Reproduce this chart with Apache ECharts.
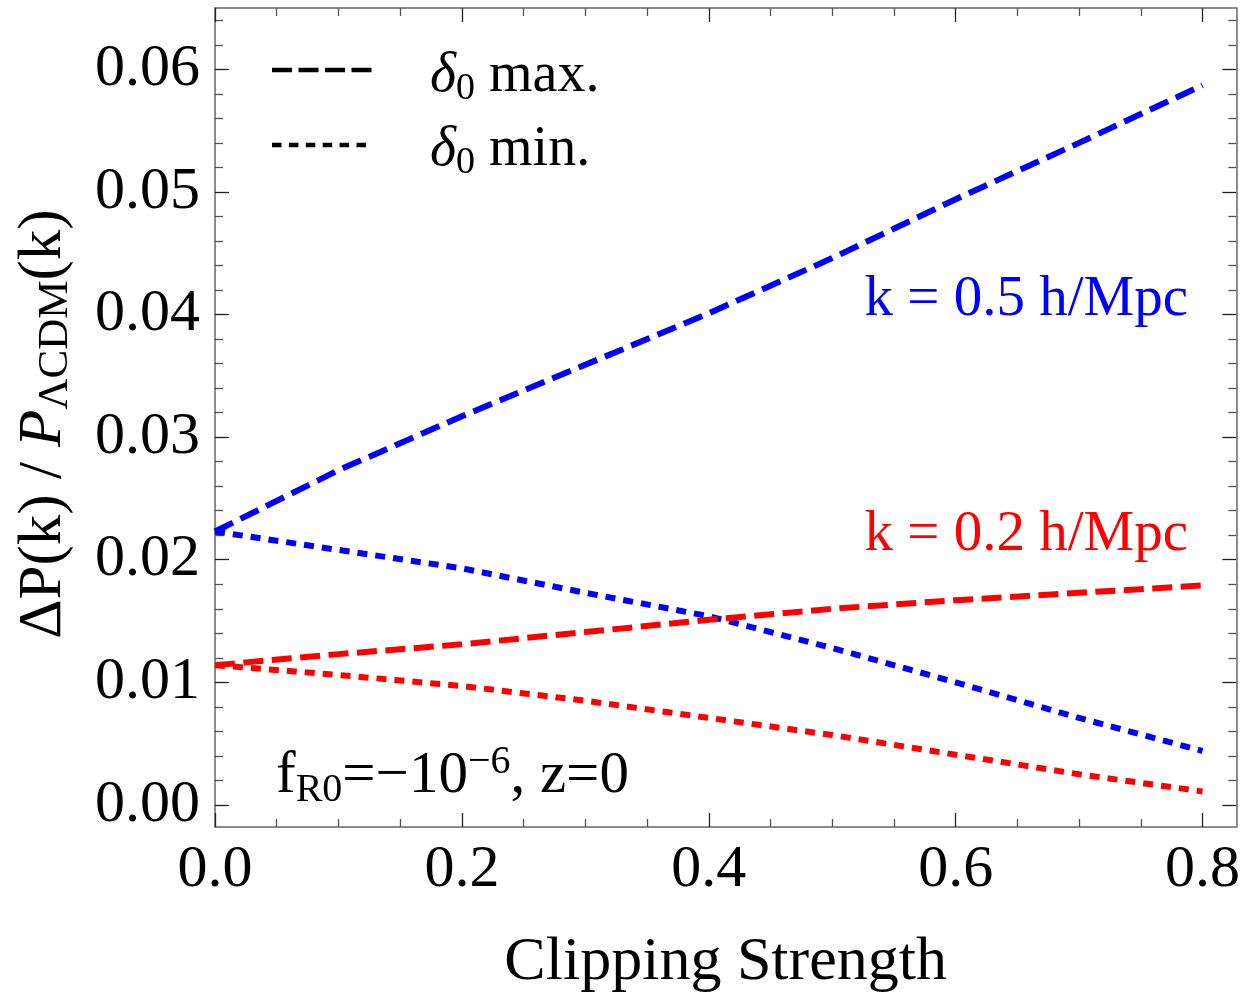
<!DOCTYPE html>
<html>
<head>
<meta charset="utf-8">
<script src="https://cdn.jsdelivr.net/npm/echarts@6/dist/echarts.min.js"></script>
<style>
  html, body { margin: 0; padding: 0; background: #fff; }
  #chart { width: 1243px; height: 999px; }
</style>
</head>
<body>
<div id="chart"></div>
<script>
// Clipping strength samples
const clipping = [0, 0.1, 0.2, 0.3, 0.4, 0.5, 0.6, 0.7, 0.8];
// Fractional power-spectrum change, k = 0.5 h/Mpc
const k05Max = [0.0223, 0.0273, 0.0317, 0.0359, 0.0401, 0.0446, 0.0494, 0.0540, 0.0587];
const k05Min = [0.0223, 0.0208, 0.0193, 0.0173, 0.0154, 0.0128, 0.0100, 0.0071, 0.0044];
// Fractional power-spectrum change, k = 0.2 h/Mpc
const k02Max = [0.0114, 0.0123, 0.0131, 0.0141, 0.0151, 0.0160, 0.0167, 0.0173, 0.0179];
const k02Min = [0.0114, 0.0106, 0.0097, 0.0085, 0.0071, 0.0057, 0.0041, 0.0025, 0.0011];

// Tick positions
const xMajorTicks = [0, 0.2, 0.4, 0.6, 0.8];
const xMinorTicks = [0.05, 0.1, 0.15, 0.25, 0.3, 0.35, 0.45, 0.5, 0.55, 0.65, 0.7, 0.75];
const yMajorTicks = [0, 0.01, 0.02, 0.03, 0.04, 0.05, 0.06];
const yMinorTicks = [0.002, 0.004, 0.006, 0.008, 0.012, 0.014, 0.016, 0.018,
  0.022, 0.024, 0.026, 0.028, 0.032, 0.034, 0.036, 0.038, 0.042, 0.044, 0.046, 0.048,
  0.052, 0.054, 0.056, 0.058, 0.062, 0.064];

const X_MIN = 0, X_MAX = 0.8274;
const Y_MIN = -0.0018, Y_MAX = 0.065;

const SERIF = '"Liberation Serif", "DejaVu Serif", serif';
const FRAME = '#666';

function pair(zipX, ys) { return zipX.map((x, i) => [x, ys[i]]); }

function xAxisDef(position, ticks, len, withLabels, showLine) {
  return {
    type: 'value', position, min: X_MIN, max: X_MAX,
    axisLine: { show: showLine, onZero: false, lineStyle: { color: FRAME, width: 1.5 } },
    axisTick: { show: true, inside: true, length: len, customValues: ticks,
      lineStyle: { color: len > 10 ? '#222' : '#555', width: 1.3 } },
    axisLabel: withLabels ? {
      show: true, customValues: ticks, margin: 13,
      formatter: v => v.toFixed(1),
      fontFamily: SERIF, fontSize: 60, color: '#000'
    } : { show: false },
    splitLine: { show: false }
  };
}

function yAxisDef(position, ticks, len, withLabels, showLine) {
  return {
    type: 'value', position, min: Y_MIN, max: Y_MAX,
    axisLine: { show: showLine, onZero: false, lineStyle: { color: FRAME, width: 1.5 } },
    axisTick: { show: true, inside: true, length: len, customValues: ticks,
      lineStyle: { color: len > 10 ? '#222' : '#555', width: 1.3 } },
    axisLabel: withLabels ? {
      show: true, customValues: ticks, margin: 15,
      formatter: v => v.toFixed(2),
      fontFamily: SERIF, fontSize: 60, color: '#000'
    } : { show: false },
    splitLine: { show: false }
  };
}

const xAxes = [
  Object.assign(xAxisDef('bottom', xMajorTicks, 14, true, true), {
    name: 'Clipping Strength', nameLocation: 'middle', nameGap: 105,
    nameTextStyle: { fontFamily: SERIF, fontSize: 62, color: '#000' }
  }),
  xAxisDef('bottom', xMinorTicks, 8, false, false),
  xAxisDef('top', xMajorTicks, 14, false, true),
  xAxisDef('top', xMinorTicks, 8, false, false)
];
const yAxes = [
  yAxisDef('left', yMajorTicks, 14, true, true),
  yAxisDef('left', yMinorTicks, 8, false, false),
  yAxisDef('right', yMajorTicks, 14, false, true),
  yAxisDef('right', yMinorTicks, 8, false, false)
];

const DASHED = [20, 8.5];
const DOTTED = [10, 8];

function lineSeries(name, ys, color, dash) {
  return {
    name, type: 'line', xAxisIndex: 0, yAxisIndex: 0,
    data: pair(clipping, ys),
    showSymbol: false, symbol: 'none', animation: false, silent: true,
    lineStyle: { color, width: 6, type: dash, cap: 'butt' }
  };
}

const mainText = { fontFamily: SERIF, fontSize: 56, color: '#000', lineHeight: 64 };
const subText = { fontFamily: SERIF, fontSize: 38, color: '#000', lineHeight: 30, verticalAlign: 'bottom' };
const supText = { fontFamily: SERIF, fontSize: 38, color: '#000', lineHeight: 30, verticalAlign: 'top' };
const italicText = Object.assign({}, mainText, { fontStyle: 'italic' });

const paramMain = Object.assign({}, mainText, { fontSize: 59, lineHeight: 68 });
const paramSub = Object.assign({}, subText, { fontSize: 40, lineHeight: 32 });
const paramSup = Object.assign({}, supText, { fontSize: 40, lineHeight: 26 });

const chart = echarts.init(document.getElementById('chart'), null, { renderer: 'canvas' });
chart.setOption({
  animation: false,
  backgroundColor: '#fff',
  grid: { left: 215, right: 2, top: 8, bottom: 168, containLabel: false },
  xAxis: xAxes,
  yAxis: yAxes,
  series: [
    lineSeries('k05 min', k05Min, '#0000ff', DOTTED),
    lineSeries('k02 min', k02Min, '#ff0000', DOTTED),
    lineSeries('k02 max', k02Max, '#ff0000', DASHED),
    lineSeries('k05 max', k05Max, '#0000ff', DASHED)
  ],
  graphic: [
    // y-axis title
    {
      type: 'text', x: 44, y: 424, rotation: Math.PI / 2,
      style: {
        text: '{m|ΔP(k) / }{i|P}{s|ΛCDM}{m|(k)}',
        align: 'center', verticalAlign: 'middle',
        rich: {
          m: Object.assign({}, mainText, { fontSize: 61, lineHeight: 66 }),
          i: Object.assign({}, italicText, { fontSize: 61, lineHeight: 66 }),
          s: Object.assign({}, subText, { fontSize: 43, lineHeight: 34 })
        }
      }
    },
    // legend samples
    { type: 'line', shape: { x1: 272, y1: 70, x2: 372, y2: 70 },
      style: { stroke: '#000', lineWidth: 4.5, lineDash: [20, 6.5] } },
    { type: 'line', shape: { x1: 272, y1: 145, x2: 368, y2: 145 },
      style: { stroke: '#000', lineWidth: 4.5, lineDash: [9.5, 7.4] } },
    {
      type: 'text', x: 430, y: 76,
      style: {
        text: '{i|δ}{s|0}{m| max.}', align: 'left', verticalAlign: 'middle',
        rich: { i: italicText, s: subText, m: mainText }
      }
    },
    {
      type: 'text', x: 430, y: 150,
      style: {
        text: '{i|δ}{s|0}{m| min.}', align: 'left', verticalAlign: 'middle',
        rich: { i: italicText, s: subText, m: mainText }
      }
    },
    // curve labels
    {
      type: 'text', x: 1188, y: 300,
      style: {
        text: 'k = 0.5 h/Mpc', align: 'right', verticalAlign: 'middle',
        fontFamily: SERIF, fontSize: 57, fill: '#0000ff'
      }
    },
    {
      type: 'text', x: 1188, y: 535,
      style: {
        text: 'k = 0.2 h/Mpc', align: 'right', verticalAlign: 'middle',
        fontFamily: SERIF, fontSize: 57, fill: '#ff0000'
      }
    },
    // model parameters
    {
      type: 'text', x: 276, y: 776,
      style: {
        text: '{m|f}{s|R0}{m|=−10}{p|−6}{m|, z=0}', align: 'left', verticalAlign: 'middle',
        rich: { m: paramMain, s: paramSub, p: paramSup }
      }
    }
  ]
});
</script>
</body>
</html>
